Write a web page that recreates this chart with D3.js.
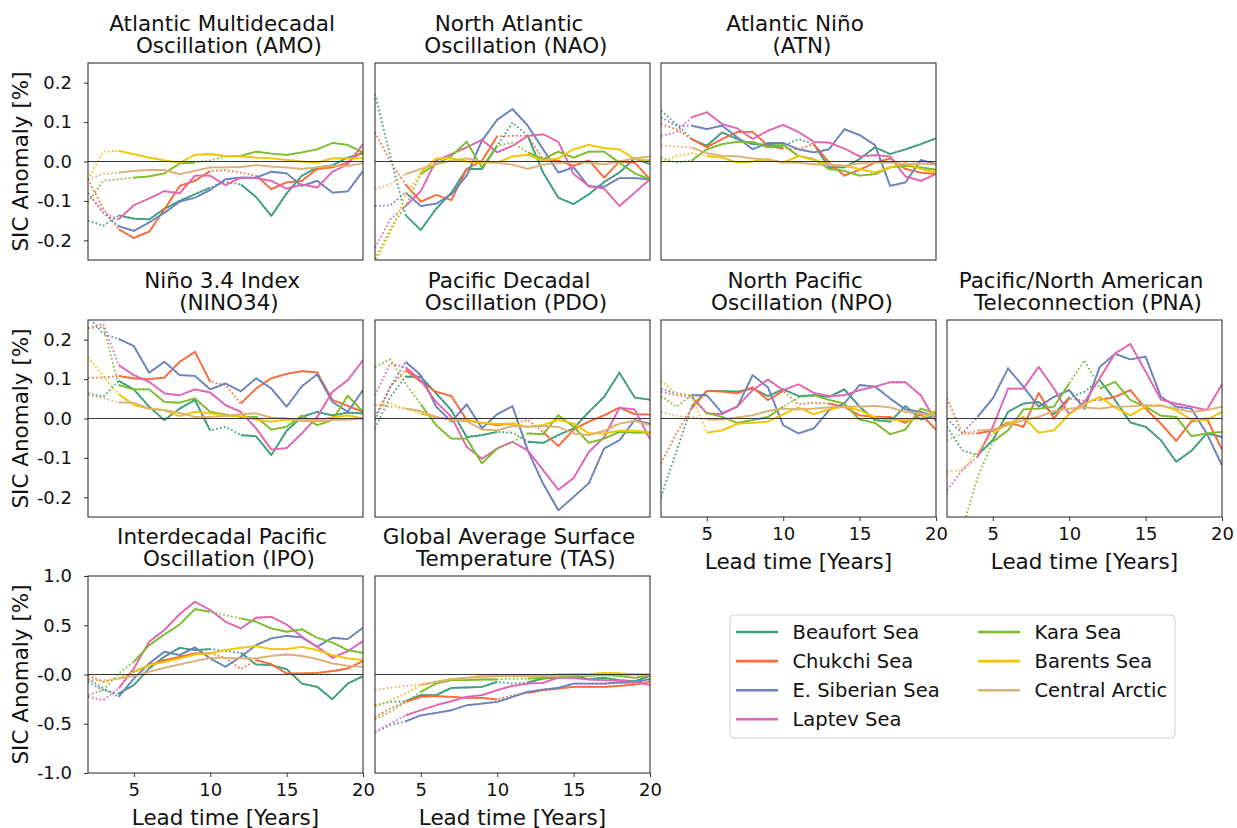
<!DOCTYPE html>
<html>
<head>
<meta charset="utf-8">
<script src="https://cdn.jsdelivr.net/npm/d3@7"></script>
<style>
  html, body { margin: 0; padding: 0; background: #fff; }
  svg { display: block; font-family: "DejaVu Sans", sans-serif; }
</style>
</head>
<body>
<svg id="chart" width="1237" height="828"></svg>
<script>
// Lead times (years) shared by every panel
const leadTimes = d3.range(2, 21);

// Arctic regions and their line colours
const regions = ["Beaufort Sea", "Chukchi Sea", "E. Siberian Sea", "Laptev Sea",
                 "Kara Sea", "Barents Sea", "Central Arctic"];
const regionColors = ["#3e9e7e", "#fc6a37", "#6b82bf", "#e464b4",
                      "#7cbd2c", "#f2c500", "#ddb176"];

// Climate indices: title lines and panel order
const indexTitles = [
  ["Atlantic Multidecadal", "Oscillation (AMO)"],
  ["North Atlantic", "Oscillation (NAO)"],
  ["Atlantic Niño", "(ATN)"],
  ["Niño 3.4 Index", "(NINO34)"],
  ["Pacific Decadal", "Oscillation (PDO)"],
  ["North Pacific", "Oscillation (NPO)"],
  ["Pacific/North American", "Teleconnection (PNA)"],
  ["Interdecadal Pacific", "Oscillation (IPO)"],
  ["Global Average Surface", "Temperature (TAS)"]
];

// Axis ticks
const xTicks = [5, 10, 15, 20];
const smallTicks = [-0.2, -0.1, 0.0, 0.1, 0.2];
const smallTickLabels = ["-0.2", "-0.1", "0.0", "0.1", "0.2"];
const largeTicks = [-1.0, -0.5, 0.0, 0.5, 1.0];
const largeTickLabels = ["-1.0", "-0.5", "-0.0", "0.5", "1.0"];

// SIC anomaly [%] per region (rows follow `regions`), lead times 2..20
const amoValues = [
  [-0.150,-0.163,-0.137,-0.145,-0.147,-0.120,-0.100,-0.083,-0.066,-0.052,-0.058,-0.090,-0.138,-0.081,-0.036,-0.015,-0.010,0.010,0.021],
  [-0.045,-0.120,-0.172,-0.194,-0.178,-0.121,-0.062,-0.049,-0.024,-0.022,-0.028,-0.036,-0.070,-0.053,-0.049,-0.019,-0.015,-0.003,0.027],
  [-0.080,-0.130,-0.164,-0.176,-0.155,-0.130,-0.102,-0.092,-0.072,-0.045,-0.041,-0.041,-0.026,-0.030,-0.062,-0.049,-0.079,-0.076,-0.024],
  [-0.080,-0.130,-0.147,-0.111,-0.094,-0.075,-0.081,-0.036,-0.036,-0.060,-0.041,-0.042,-0.049,-0.069,-0.058,-0.066,-0.026,-0.007,0.044],
  [-0.104,-0.049,-0.045,-0.041,-0.038,-0.030,-0.005,-0.003,0.003,0.013,0.014,0.025,0.020,0.017,0.023,0.031,0.047,0.042,0.023],
  [-0.045,0.025,0.027,0.019,0.010,0.003,-0.003,0.017,0.019,0.014,0.013,0.010,0.008,0.004,0.000,-0.003,0.008,0.008,0.008],
  [-0.045,-0.032,-0.028,-0.024,-0.021,-0.022,-0.032,-0.024,-0.015,-0.015,-0.014,-0.009,-0.013,-0.015,-0.019,-0.015,-0.011,-0.011,-0.004]
];
const naoValues = [
  [0.171,0.014,-0.136,-0.174,-0.120,-0.079,-0.019,-0.019,0.040,0.099,0.065,-0.028,-0.092,-0.108,-0.083,-0.052,-0.028,0.008,-0.007],
  [0.074,0.000,-0.058,-0.102,-0.085,-0.098,-0.019,0.002,0.064,0.065,0.065,0.006,0.002,-0.011,0.003,-0.041,0.000,-0.003,-0.045],
  [-0.113,-0.111,-0.079,-0.113,-0.107,-0.083,-0.036,0.053,0.106,0.133,0.091,0.031,-0.028,-0.015,-0.064,-0.064,-0.042,-0.042,-0.045],
  [-0.219,-0.147,-0.113,-0.075,0.002,0.019,0.036,0.055,0.023,0.040,0.065,0.069,0.050,-0.032,-0.062,-0.069,-0.113,-0.079,-0.045],
  [-0.248,-0.172,-0.113,-0.032,-0.007,0.014,0.050,-0.015,0.040,0.048,0.023,0.006,0.025,0.010,0.025,0.025,-0.003,-0.030,-0.045],
  [-0.257,-0.180,-0.087,-0.028,0.008,0.008,0.000,-0.003,-0.003,0.013,0.017,0.002,0.008,0.031,0.042,0.034,0.031,0.006,0.003],
  [-0.070,-0.058,-0.032,-0.019,-0.007,0.002,0.008,0.000,-0.003,-0.008,-0.019,-0.008,-0.004,-0.001,-0.003,-0.007,0.000,0.008,0.013]
];
const atnValues = [
  [0.129,0.095,0.057,0.040,0.074,0.057,0.044,0.042,0.040,0.057,0.044,-0.015,-0.015,0.006,0.036,0.019,0.031,0.044,0.059],
  [0.095,0.082,0.057,0.036,0.057,0.075,0.075,0.040,0.033,0.031,0.044,-0.003,-0.036,-0.021,-0.003,0.008,-0.019,-0.028,-0.032],
  [0.112,0.091,0.091,0.082,0.091,0.061,0.031,0.047,0.047,0.031,0.023,0.031,0.082,0.067,0.042,-0.062,-0.053,0.004,-0.007],
  [0.065,0.074,0.112,0.125,0.095,0.084,0.057,0.078,0.093,0.075,0.050,0.048,0.033,0.013,0.016,0.013,-0.038,-0.049,-0.032],
  [0.010,-0.003,0.002,0.031,0.044,0.050,0.050,0.036,0.042,0.014,0.006,-0.019,-0.024,-0.036,-0.032,-0.015,-0.011,-0.015,-0.021],
  [-0.003,0.014,0.021,0.014,0.010,-0.003,0.000,0.006,-0.003,0.014,0.004,-0.007,-0.011,-0.019,-0.028,-0.015,-0.004,-0.019,-0.028],
  [0.040,0.038,0.036,0.021,0.014,0.013,0.008,0.004,-0.003,-0.003,-0.007,-0.008,-0.011,-0.005,-0.003,-0.003,-0.007,-0.005,-0.008]
];
const nino34Values = [
  [0.064,0.055,0.096,0.074,0.030,-0.004,0.025,0.047,-0.031,-0.021,-0.042,-0.045,-0.093,-0.031,0.004,0.017,0.008,0.015,0.013],
  [0.103,0.104,0.108,0.102,0.100,0.104,0.144,0.169,0.093,0.085,0.038,0.076,0.102,0.113,0.120,0.117,0.047,0.032,0.017],
  [0.260,0.215,0.202,0.184,0.116,0.144,0.110,0.108,0.074,0.089,0.069,0.102,0.076,0.030,0.082,0.112,0.042,0.017,0.072],
  [0.230,0.240,0.136,0.110,0.093,0.064,0.059,0.074,0.066,0.034,0.017,-0.025,-0.079,-0.075,-0.038,0.004,0.068,0.097,0.148],
  [0.229,0.233,0.085,0.074,0.074,0.042,0.040,0.051,0.017,0.010,0.004,0.004,-0.028,-0.021,0.008,-0.017,-0.004,0.058,0.017],
  [0.155,0.106,0.062,0.034,0.025,0.021,0.006,0.017,0.013,0.008,0.006,-0.003,-0.008,-0.003,-0.004,-0.004,0.003,0.008,0.000],
  [0.059,0.051,0.041,0.040,0.025,0.021,0.014,0.004,0.004,0.006,0.011,0.013,0.002,0.000,-0.006,-0.007,-0.004,-0.003,0.000]
];
const pdoValues = [
  [-0.025,0.055,0.106,0.106,0.064,0.021,-0.047,-0.042,-0.034,-0.036,-0.059,-0.062,-0.042,-0.025,0.017,0.055,0.116,0.053,0.048],
  [-0.004,0.080,0.123,0.093,0.068,0.057,-0.004,-0.011,-0.017,-0.013,-0.004,-0.034,-0.070,-0.028,-0.008,0.008,0.028,0.011,0.010],
  [0.004,0.080,0.144,0.110,0.030,-0.008,0.036,-0.025,0.011,0.031,-0.081,-0.165,-0.233,-0.199,-0.164,-0.076,-0.055,-0.004,-0.013],
  [0.059,0.140,0.130,0.097,0.042,0.004,-0.072,-0.102,-0.076,-0.059,-0.081,-0.131,-0.181,-0.151,-0.085,-0.047,0.027,0.023,-0.053],
  [0.131,0.150,0.089,0.036,-0.017,-0.051,-0.051,-0.114,-0.076,-0.059,-0.038,-0.040,0.008,-0.021,-0.062,-0.051,-0.034,-0.036,-0.036],
  [0.034,0.038,0.025,0.013,0.003,-0.003,-0.004,-0.011,-0.014,-0.013,-0.021,-0.017,-0.003,-0.013,-0.038,-0.038,-0.031,-0.031,-0.036],
  [0.034,0.030,0.025,0.019,0.004,-0.003,-0.007,-0.028,-0.030,-0.019,-0.021,-0.019,-0.021,-0.038,-0.042,-0.031,-0.013,-0.006,-0.017]
];
const npoValues = [
  [-0.199,-0.085,0.030,0.070,0.070,0.068,0.076,0.057,0.074,0.057,0.059,0.055,0.074,0.030,-0.004,-0.008,0.032,-0.003,0.008],
  [-0.114,-0.038,0.025,0.070,0.068,0.064,0.079,0.047,0.070,0.036,0.040,0.038,0.030,0.008,0.004,0.004,-0.011,0.011,-0.028],
  [0.076,0.064,0.059,0.059,0.014,0.030,0.110,0.079,-0.017,-0.038,-0.025,0.021,0.038,0.085,0.081,0.051,0.023,0.017,0.006],
  [0.068,0.059,0.055,0.013,0.011,0.031,0.072,0.099,0.072,0.087,0.065,0.057,0.059,0.072,0.081,0.092,0.092,0.059,-0.008],
  [0.057,0.030,0.059,0.014,0.004,-0.011,-0.004,0.004,0.030,0.053,0.059,0.047,0.038,-0.003,-0.011,-0.040,-0.028,0.025,0.013],
  [0.096,0.064,0.059,-0.036,-0.030,-0.013,-0.011,-0.008,0.011,0.028,0.011,0.023,0.030,0.021,0.003,-0.003,-0.004,0.000,0.019],
  [0.017,0.006,0.004,-0.003,-0.003,0.003,0.008,0.019,0.025,0.023,0.025,0.028,0.030,0.030,0.032,0.028,0.017,0.013,0.006]
];
const pnaValues = [
  [-0.021,-0.081,-0.093,-0.055,0.017,0.038,0.042,0.011,0.053,0.068,0.097,0.047,-0.010,-0.021,-0.055,-0.110,-0.082,-0.038,-0.047],
  [0.051,-0.038,-0.038,-0.031,-0.010,-0.021,0.065,0.000,0.051,0.045,0.047,0.055,0.072,0.025,-0.013,-0.057,-0.007,0.000,-0.079],
  [0.000,-0.038,0.004,0.051,0.127,0.081,0.030,0.055,0.072,0.025,0.131,0.164,0.150,0.157,0.055,0.030,0.025,-0.038,-0.119],
  [-0.182,-0.131,-0.097,-0.021,0.076,0.076,0.131,0.076,0.011,0.042,0.102,0.165,0.189,0.119,0.048,0.038,0.030,0.021,0.087],
  [-0.350,-0.280,-0.150,-0.059,-0.030,0.023,0.025,0.030,0.089,0.148,0.076,0.093,0.047,0.030,0.007,0.004,-0.045,-0.038,-0.034],
  [-0.136,-0.131,-0.085,-0.038,-0.013,0.004,-0.036,-0.030,0.011,0.036,0.055,0.028,0.008,0.030,0.034,0.021,-0.003,-0.004,0.017],
  [-0.055,-0.038,-0.031,-0.028,-0.017,-0.004,0.004,0.019,0.025,0.028,0.025,0.030,0.031,0.034,0.032,0.025,0.017,0.021,0.030]
];
const ipoValues = [
  [-0.075,-0.159,-0.193,-0.108,0.061,0.180,0.271,0.247,0.258,0.240,0.220,0.102,0.095,0.054,-0.092,-0.125,-0.251,-0.092,-0.017],
  [-0.007,-0.075,-0.041,0.027,0.095,0.146,0.180,0.214,0.214,0.170,0.054,0.146,0.105,0.010,0.010,0.017,0.034,0.061,0.136],
  [-0.041,-0.142,-0.227,-0.041,0.112,0.231,0.197,0.275,0.163,0.078,0.180,0.298,0.366,0.393,0.376,0.281,0.373,0.359,0.475],
  [-0.227,-0.261,-0.142,0.061,0.332,0.451,0.614,0.739,0.654,0.536,0.468,0.576,0.586,0.508,0.383,0.281,0.169,0.237,0.339],
  [-0.210,-0.159,0.010,0.129,0.298,0.407,0.508,0.664,0.637,0.603,0.569,0.536,0.468,0.434,0.458,0.373,0.325,0.247,0.220],
  [-0.041,-0.075,-0.041,0.027,0.095,0.129,0.163,0.203,0.214,0.247,0.271,0.288,0.258,0.258,0.281,0.247,0.197,0.163,0.146],
  [-0.058,-0.058,-0.041,-0.014,0.027,0.068,0.102,0.136,0.169,0.169,0.163,0.163,0.190,0.203,0.190,0.156,0.112,0.088,0.078]
];
const tasValues = [
  [-0.312,-0.278,-0.271,-0.210,-0.210,-0.136,-0.132,-0.125,-0.075,-0.092,-0.081,-0.041,-0.031,-0.014,-0.047,-0.034,-0.058,-0.068,-0.017],
  [-0.431,-0.346,-0.278,-0.227,-0.220,-0.227,-0.237,-0.237,-0.254,-0.210,-0.186,-0.159,-0.142,-0.125,-0.125,-0.125,-0.115,-0.102,-0.075],
  [-0.583,-0.515,-0.475,-0.414,-0.390,-0.363,-0.312,-0.295,-0.278,-0.227,-0.176,-0.153,-0.136,-0.092,-0.092,-0.092,-0.081,-0.081,-0.047],
  [-0.583,-0.498,-0.414,-0.363,-0.312,-0.271,-0.227,-0.210,-0.159,-0.115,-0.092,-0.085,-0.031,-0.034,-0.051,-0.058,-0.064,-0.075,-0.108],
  [-0.454,-0.380,-0.278,-0.176,-0.092,-0.058,-0.058,-0.051,-0.051,-0.041,-0.041,-0.034,-0.024,-0.017,-0.014,-0.007,-0.014,-0.034,-0.007],
  [-0.329,-0.261,-0.193,-0.108,-0.075,-0.047,-0.034,-0.014,-0.007,-0.007,-0.007,-0.007,0.000,0.003,0.003,0.017,0.010,0.003,0.000],
  [-0.159,-0.136,-0.115,-0.102,-0.075,-0.047,-0.034,-0.024,-0.017,-0.017,-0.017,-0.017,-0.014,-0.007,-0.007,0.000,0.000,0.000,0.000]
];

// Lead times at which each regional correlation is not significant (drawn dotted)
const amoNotSignificant    = [[2,3,11],[2,3,11,12],[2,3],[2,3],[2,3,4,10],[2,3],[2,3]];
const naoNotSignificant    = [[2,3,11],[2,3,11,12],[2,3],[2,3],[2,3,4,11],[2,3,4],[2,3]];
const atnNotSignificant    = [[2,3,11],[2,3,11],[2,3],[2,3],[2,3],[2,3,4],[2,3]];
const nino34NotSignificant = [[2,3,11],[2,3,11],[2,3],[2,3],[2,3],[2,3],[2,3]];
const pdoNotSignificant    = [[2,3,11],[2,3,12],[2,3],[2,3],[2,3,4,11],[2,3,4],[2,3]];
const npoNotSignificant    = [[2,3],[2,3,11,12],[2,3],[2,3],[2,3,4,11],[2,3,4],[2,3,4]];
const pnaNotSignificant    = [[2,3,11],[2,3,11],[2,3],[2,3],[2,3,4,11],[2,3,4],[2,3]];
const ipoNotSignificant    = [[2,3,11],[2,3,4,11,12],[2,3],[2,3],[2,3,4,11],[2,3,4],[2,3]];
const tasNotSignificant    = [[2,3,11],[2,3,11],[2,3],[2,3],[2,3,4,11],[2,3,4],[2,3,4]];

// ---------------------------------------------------------------------------
const panelValues = [amoValues, naoValues, atnValues, nino34Values, pdoValues,
                     npoValues, pnaValues, ipoValues, tasValues];
const panelNotSig = [amoNotSignificant, naoNotSignificant, atnNotSignificant,
                     nino34NotSignificant, pdoNotSignificant, npoNotSignificant,
                     pnaNotSignificant, ipoNotSignificant, tasNotSignificant];
// grid cell (row, col) of each panel
const panelCells = [[0,0],[0,1],[0,2],[1,0],[1,1],[1,2],[1,3],[2,0],[2,1]];

const svg = d3.select("#chart");
const colLeft = [88, 375, 661, 947];
const rowTop = [63, 320, 576];
const pw = 275, ph = 197;
const font = "DejaVu Sans";
const spineColor = "#333";

const x = d3.scaleLinear().domain([2, 20]);

panelCells.forEach(([row, col], p) => {
  const left = colLeft[col], top = rowTop[row];
  const large = row === 2;
  const xs = x.copy().range([0, pw]);
  const ys = d3.scaleLinear().domain(large ? [-1, 1] : [-0.25, 0.25]).range([ph, 0]);

  const g = svg.append("g").attr("transform", `translate(${left},${top})`);

  const clipId = `clip-${p}`;
  g.append("clipPath").attr("id", clipId)
    .append("rect").attr("width", pw).attr("height", ph);

  const plot = g.append("g").attr("clip-path", `url(#${clipId})`);

  panelValues[p].forEach((vals, r) => {
    const pts = leadTimes.map((t, i) => ({ t, v: vals[i] }));
    const notSig = new Set(panelNotSig[p][r]);
    // full series, dotted underneath
    plot.append("path")
      .datum(pts)
      .attr("fill", "none")
      .attr("stroke", regionColors[r])
      .attr("stroke-width", 1.8)
      .attr("stroke-dasharray", "1.6,2.4")
      .attr("d", d3.line().x(d => xs(d.t)).y(d => ys(d.v)));
    // significant stretches, solid
    plot.append("path")
      .datum(pts)
      .attr("fill", "none")
      .attr("stroke", regionColors[r])
      .attr("stroke-width", 1.8)
      .attr("stroke-linejoin", "round")
      .attr("d", d3.line().defined(d => !notSig.has(d.t)).x(d => xs(d.t)).y(d => ys(d.v)));
  });

  // zero reference line
  g.append("line")
    .attr("x1", 0).attr("x2", pw)
    .attr("y1", ys(0)).attr("y2", ys(0))
    .attr("stroke", spineColor).attr("stroke-width", 1.1);

  // frame
  g.append("rect").attr("width", pw).attr("height", ph)
    .attr("fill", "none").attr("stroke", spineColor).attr("stroke-width", 1.1);

  // title (two centred lines)
  const [t1, t2] = indexTitles[p];
  const title = g.append("text")
    .attr("text-anchor", "middle")
    .attr("font-family", font).attr("font-size", 21.5).attr("fill", "#111");
  title.append("tspan").attr("x", pw / 2).attr("y", -32).text(t1 + "\u00A0");
  title.append("tspan").attr("x", pw / 2).attr("y", -10).text("\u00A0" + t2);

  // y axis on the first column
  if (col === 0) {
    const ticks = large ? largeTicks : smallTicks;
    const labels = large ? largeTickLabels : smallTickLabels;
    const ax = g.append("g").call(
      d3.axisLeft(ys).tickValues(ticks)
        .tickFormat((d, i) => labels[i])
        .tickSizeInner(4).tickSizeOuter(0).tickPadding(12));
    ax.select(".domain").remove();
    ax.selectAll("line").attr("stroke", spineColor);
    ax.selectAll("text").attr("font-family", font).attr("font-size", 18).attr("fill", "#111");

    svg.append("text")
      .attr("transform", `translate(27.5,${top + ph / 2}) rotate(-90)`)
      .attr("text-anchor", "middle")
      .attr("font-family", font).attr("font-size", 21.5).attr("fill", "#111")
      .text("SIC Anomaly [%]");
  }

  // x axis on the bottom panel of each column
  const bottomOfColumn = (row === 2) || (row === 1 && col >= 2);
  if (bottomOfColumn) {
    const ax = g.append("g").attr("transform", `translate(0,${ph})`).call(
      d3.axisBottom(xs).tickValues(xTicks).tickFormat(d3.format("d"))
        .tickSizeInner(4).tickSizeOuter(0).tickPadding(6.5));
    ax.select(".domain").remove();
    ax.selectAll("line").attr("stroke", spineColor);
    ax.selectAll("text").attr("font-family", font).attr("font-size", 18).attr("fill", "#111");

    g.append("text")
      .attr("x", pw / 2).attr("y", ph + 51.5)
      .attr("text-anchor", "middle")
      .attr("font-family", font).attr("font-size", 21.5).attr("fill", "#111")
      .text("Lead time [Years]");
  }
});

// legend
const legend = svg.append("g").attr("transform", "translate(730,615)");
legend.append("rect")
  .attr("width", 445).attr("height", 123).attr("rx", 4)
  .attr("fill", "#fff").attr("stroke", "#d0d0d0").attr("stroke-width", 1);
regions.forEach((name, i) => {
  const c = i < 4 ? 0 : 1;
  const r = i < 4 ? i : i - 4;
  const item = legend.append("g")
    .attr("transform", `translate(${6 + c * 242},${17 + r * 29.1})`);
  item.append("line")
    .attr("x1", 0).attr("x2", 42)
    .attr("stroke", regionColors[i]).attr("stroke-width", 2.6);
  item.append("text")
    .attr("x", 56.5).attr("y", 7)
    .attr("font-family", font).attr("font-size", 19.5).attr("fill", "#111")
    .text(name);
});
</script>
</body>
</html>
